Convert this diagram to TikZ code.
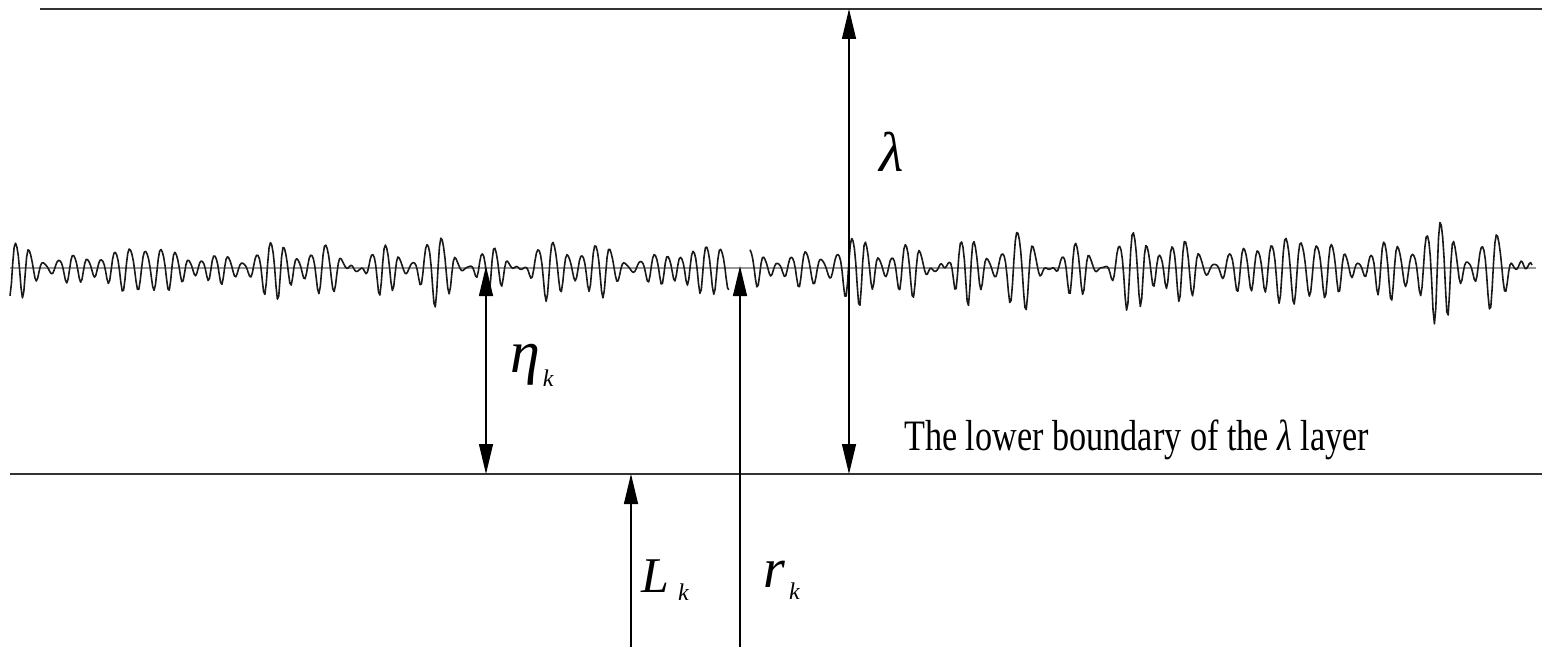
\documentclass[tikz,border=0pt]{standalone}
\usepackage{fontspec}
\setmainfont{Liberation Serif}
\usetikzlibrary{arrows.meta}
\tikzset{
  hline/.style={line width=1.7pt, draw=black!80},
  midline/.style={line width=2.4pt, draw=black!40},
  wave/.style={line width=1.6pt, draw=black!90, line join=round},
  dimline/.style={line width=1.3pt, draw=black},
  onehead/.style={dimline, -{Triangle[length=30pt,width=14pt]}},
  twohead/.style={dimline, {Triangle[length=30pt,width=14pt]}-{Triangle[length=30pt,width=14pt]}},
  symlabel/.style={inner sep=0pt, anchor=base west}
}
\begin{document}
\begin{tikzpicture}[x={(1pt,0pt)}, y={(0pt,-1pt)},
  declare function={
    ph(\x)=mod(\x,14.1)/14.1*360+45*sin(mod(\x,231)/231*360)+30*sin(mod(\x,97)/97*360);
    mm(\x)=0.55+0.45*sin(mod(\x,83)/83*360)*sin(mod(\x,197)/197*360)+0.3*sin(mod(\x,53)/53*360);
    base(\x)=27+22*(\x/1542)^3;
    osc(\x)=sin(ph(\x))+0.15*sin(2*ph(\x)+60);
    yy(\x)=268-base(\x)*mm(\x)*osc(\x);
  }]
\useasboundingbox[fill=white] (0,0) rectangle (1542,647);
% reference lines
\coordinate (topL) at (40,9);
\coordinate (topR) at (1542,9);
\coordinate (midL) at (10,268);
\coordinate (midR) at (1536,268);
\coordinate (botL) at (10,474);
\coordinate (botR) at (1542,474);
\draw[hline] (topL) -- (topR);
\draw[midline] (midL) -- (midR);
\draw[hline] (botL) -- (botR);
% wave
\draw[wave] plot[domain=10:729, samples=520] (\x, {yy(\x)});
\draw[wave] plot[domain=750:1532, samples=570] (\x, {yy(\x)});
% arrow end points
\coordinate (etaTop) at (486,266);
\coordinate (etaBot) at (486,474);
\coordinate (lBot) at (631,647);
\coordinate (lTop) at (631,474);
\coordinate (rBot) at (740,647);
\coordinate (rTop) at (740,266);
\coordinate (lamTop) at (849,9);
\coordinate (lamBot) at (849,474);
\draw[twohead] (etaBot) -- (etaTop);
\draw[onehead] (lBot) -- (lTop);
\draw[onehead] (rBot) -- (rTop);
\draw[twohead] (lamBot) -- (lamTop);
% labels
\node[symlabel] (lamlab) at (879,172) {\fontsize{56}{60}\selectfont\itshape λ};
\node[symlabel] (etalab) at (510,372) {\fontsize{60}{60}\selectfont\itshape η\kern3pt\raisebox{-14pt}{\fontsize{24}{24}\selectfont k}};
\node[symlabel] (Llab) at (641,592) {\fontsize{50}{60}\selectfont\itshape L\kern9pt\raisebox{-8pt}{\fontsize{24}{24}\selectfont k}};
\node[symlabel] (rlab) at (763,587) {\fontsize{56}{60}\selectfont\itshape r\kern4pt\raisebox{-12pt}{\fontsize{24}{24}\selectfont k}};
\node[symlabel] (boundary) at (904,450) {\scalebox{1}[1.27]{\fontsize{34.2}{40}\selectfont The lower boundary of the {\itshape λ} layer}};
\end{tikzpicture}
\end{document}
